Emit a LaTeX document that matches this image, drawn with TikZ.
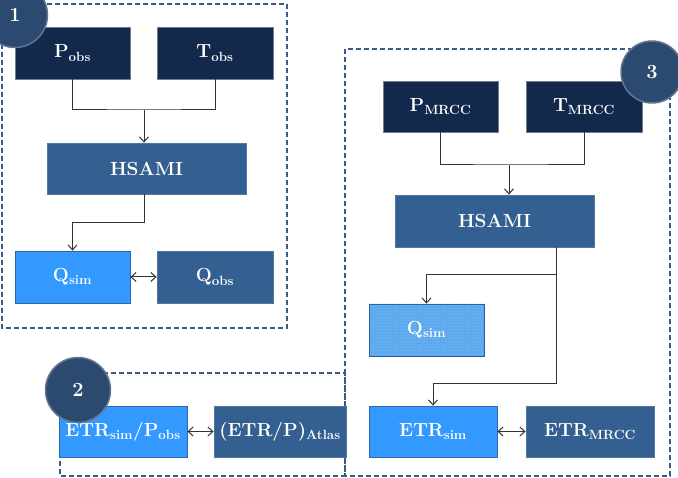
\documentclass[tikz,border=0pt]{standalone}
\usetikzlibrary{patterns,arrows.meta}

\definecolor{navy}{HTML}{13294B}
\definecolor{midblue}{HTML}{335F91}
\definecolor{brightblue}{HTML}{3399FF}
\definecolor{hatchblue}{HTML}{5AA8EE}
\definecolor{markblue}{HTML}{2C4A70}
\definecolor{frameblue}{HTML}{3A5A85}

\begin{document}
\begin{tikzpicture}[
                x=1pt, y=-1pt,
                every path/.style={semithick},
                >={Straight Barb[length=5pt,width=9pt]},
                box/.style={rectangle, minimum width=115pt, minimum height=52pt,
                    inner sep=0pt, text=white, line width=0.8pt,
                    font=\fontsize{19}{23}\selectfont\bfseries},
                inbox/.style={box, fill=navy, draw=navy!60!white},
                modelbox/.style={box, fill=midblue, draw=midblue!85!white},
                simbox/.style={box, fill=brightblue, draw=brightblue!70!black},
                marker/.style={circle, minimum size=65pt, inner sep=0pt,
                    fill=markblue, draw=markblue!75!white, line width=1.5pt,
                    text=white, font=\fontsize{20}{24}\selectfont\bfseries},
                frame/.style={frameblue, line width=1.4pt, dash pattern=on 5pt off 3pt},
                link/.style={black!80, line width=1pt}
            ]
                \useasboundingbox (0,0) rectangle (678,478);

                % the three groups
                \draw [frame] (2,4) rectangle (287,328);
                \draw [frame] (345,49) rectangle (670,476);
                \draw [frame] (60,373) rectangle (345,476);

                % group 1
                \node [inbox] (pobs) at (72.5,53) {P\textsubscript{obs}};
                \node [inbox, minimum width=116pt] (tobs) at (215,53) {T\textsubscript{obs}};
                \node [modelbox, minimum width=199pt, minimum height=51pt] (hsamiA) at (146.5,168.5) {HSAMI};
                \node [simbox] (qsimA) at (72.5,277) {Q\textsubscript{sim}};
                \node [modelbox, minimum width=116pt] (qobs) at (215,277) {Q\textsubscript{obs}};

                \coordinate (joinA) at (144,110);
                \draw [link] (pobs.south) |- (joinA) -| (tobs.south);
                \draw [link,->] (joinA) -- (joinA |- hsamiA.north);
                \draw [link,->] (hsamiA.south -| joinA) -- ++(0,28) -| (qsimA.north);
                \draw [link,<->] (qsimA) -- (qobs);

                % group 3
                \node [inbox, minimum height=51pt] (pmrcc) at (440.5,106.5) {P\textsubscript{MRCC}};
                \node [inbox, minimum width=116pt, minimum height=51pt] (tmrcc) at (584,106.5) {T\textsubscript{MRCC}};
                \node [modelbox, minimum width=199pt] (hsamiB) at (494.5,221) {HSAMI};
                \node [simbox, fill=hatchblue, draw=brightblue!60!black,
                    postaction={pattern=crosshatch dots, pattern color=hatchblue!75!white}]
                    (qsimB) at (426.5,330) {Q\textsubscript{sim}};
                \node [simbox, minimum width=128pt, minimum height=51pt] (etrsim) at (433,431.5) {ETR\textsubscript{sim}};
                \node [modelbox, minimum width=128pt, minimum height=51pt] (etrmrcc) at (590,431.5) {ETR\textsubscript{MRCC}};

                \coordinate (joinB) at (509,165);
                \coordinate (tapB) at (556,275);
                \draw [link] (pmrcc.south) |- (joinB) -| (tmrcc.south);
                \draw [link,->] (joinB) -- (joinB |- hsamiB.north);
                \draw [link,->] (hsamiB.south -| tapB) -- (tapB) -| (qsimB.north);
                \draw [link,->] (tapB) -- (556,384) -| (etrsim.north);
                \draw [link,<->] (etrsim) -- (etrmrcc);

                % group 2
                \node [simbox, minimum width=128pt, minimum height=51pt] (ratiosim) at (123,431.5)
                    {ETR\textsubscript{sim}/P\textsubscript{obs}};
                \node [modelbox, minimum width=132pt, minimum height=51pt] (ratioatlas) at (280,431.5)
                    {(ETR/P)\textsubscript{Atlas}};
                \draw [link,<->] (ratiosim) -- (ratioatlas);

                % group numbers
                \node [marker] (markA) at (15,15) {1};
                \node [marker] (markB) at (78,390) {2};
                \node [marker, minimum size=62pt] (markC) at (652,72) {3};
            \end{tikzpicture}
\end{document}
